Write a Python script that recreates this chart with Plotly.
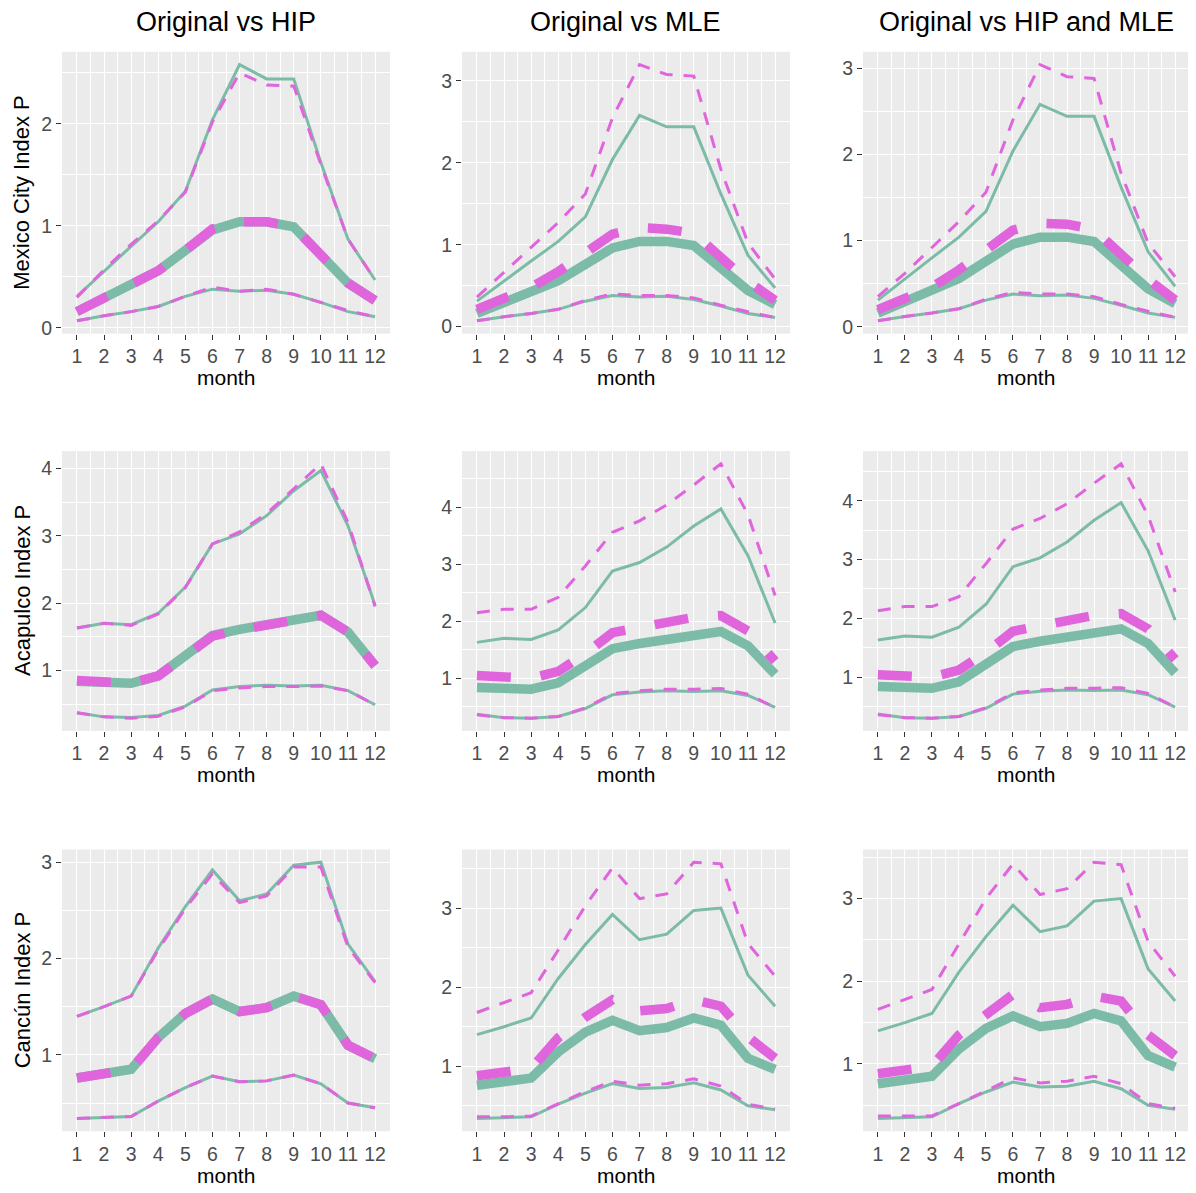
import plotly.graph_objects as go

MONTHS = list(range(1, 13))
MONTH_LABELS = [str(m) for m in MONTHS]
COL_TITLES = ["Original vs HIP", "Original vs MLE", "Original vs HIP and MLE"]
ROW_TITLES = ["Mexico City Index P", "Acapulco Index P", "Cancún Index P"]

# Mexico City
MEX_ORIG_HI = [0.31, 0.56, 0.80, 1.04, 1.34, 2.04, 2.58, 2.44, 2.44, 1.62, 0.87, 0.47]
MEX_ORIG_MED = [0.16, 0.29, 0.42, 0.56, 0.76, 0.96, 1.04, 1.04, 0.99, 0.71, 0.44, 0.27]
MEX_ORIG_LO = [0.07, 0.12, 0.16, 0.21, 0.31, 0.38, 0.36, 0.37, 0.33, 0.25, 0.16, 0.11]
MEX_HIP_HI = [0.30, 0.57, 0.82, 1.05, 1.33, 2.02, 2.50, 2.38, 2.37, 1.60, 0.87, 0.47]
MEX_HIP_MED = [0.16, 0.29, 0.42, 0.56, 0.76, 0.97, 1.04, 1.04, 0.99, 0.71, 0.44, 0.27]
MEX_HIP_LO = [0.07, 0.12, 0.16, 0.21, 0.31, 0.40, 0.36, 0.38, 0.33, 0.25, 0.17, 0.11]
MEX_MLE_HI = [0.36, 0.66, 0.96, 1.27, 1.62, 2.55, 3.20, 3.08, 3.06, 1.92, 1.02, 0.58]
MEX_MLE_MED = [0.21, 0.33, 0.48, 0.67, 0.90, 1.13, 1.21, 1.19, 1.14, 0.85, 0.55, 0.32]
MEX_MLE_LO = [0.07, 0.12, 0.16, 0.21, 0.32, 0.40, 0.38, 0.38, 0.35, 0.26, 0.18, 0.11]
MEX_HM_HI = [0.35, 0.62, 0.92, 1.22, 1.56, 2.40, 3.04, 2.90, 2.88, 1.78, 0.97, 0.58]
MEX_HM_MED = [0.20, 0.33, 0.46, 0.66, 0.88, 1.12, 1.20, 1.19, 1.13, 0.84, 0.55, 0.31]
MEX_HM_LO = [0.07, 0.12, 0.16, 0.21, 0.32, 0.40, 0.38, 0.38, 0.35, 0.26, 0.18, 0.11]

# Acapulco
ACA_ORIG_HI = [1.63, 1.70, 1.68, 1.85, 2.24, 2.88, 3.03, 3.30, 3.67, 3.97, 3.15, 1.97]
ACA_ORIG_MED = [0.84, 0.83, 0.81, 0.92, 1.20, 1.52, 1.61, 1.67, 1.75, 1.82, 1.57, 1.07]
ACA_ORIG_LO = [0.37, 0.31, 0.30, 0.33, 0.47, 0.71, 0.76, 0.78, 0.77, 0.78, 0.70, 0.49]
ACA_HIP_HI = [1.63, 1.70, 1.67, 1.84, 2.23, 2.88, 3.06, 3.33, 3.70, 4.07, 3.20, 1.95]
ACA_HIP_MED = [0.85, 0.83, 0.81, 0.92, 1.20, 1.51, 1.60, 1.67, 1.75, 1.82, 1.57, 1.07]
ACA_HIP_LO = [0.37, 0.31, 0.29, 0.32, 0.46, 0.70, 0.74, 0.76, 0.76, 0.77, 0.70, 0.49]
ACA_MLE_HI = [2.15, 2.21, 2.21, 2.42, 2.97, 3.56, 3.76, 4.04, 4.39, 4.76, 3.87, 2.45]
ACA_MLE_MED = [1.05, 1.02, 1.00, 1.12, 1.43, 1.80, 1.89, 1.98, 2.07, 2.10, 1.83, 1.30]
ACA_MLE_LO = [0.36, 0.31, 0.30, 0.33, 0.48, 0.73, 0.78, 0.81, 0.81, 0.82, 0.72, 0.49]
ACA_HM_HI = [2.13, 2.20, 2.20, 2.37, 2.93, 3.52, 3.70, 3.95, 4.30, 4.63, 3.75, 2.45]
ACA_HM_MED = [1.04, 1.02, 1.00, 1.12, 1.42, 1.78, 1.87, 1.96, 2.05, 2.08, 1.82, 1.30]
ACA_HM_LO = [0.36, 0.31, 0.30, 0.33, 0.48, 0.73, 0.78, 0.81, 0.81, 0.82, 0.72, 0.49]

# Cancun
CAN_ORIG_HI = [1.40, 1.50, 1.61, 2.11, 2.54, 2.92, 2.60, 2.67, 2.97, 3.00, 2.15, 1.76]
CAN_ORIG_MED = [0.76, 0.81, 0.85, 1.18, 1.43, 1.58, 1.45, 1.49, 1.61, 1.52, 1.10, 0.96]
CAN_ORIG_LO = [0.34, 0.35, 0.36, 0.52, 0.66, 0.78, 0.72, 0.73, 0.79, 0.70, 0.50, 0.45]
CAN_HIP_HI = [1.40, 1.50, 1.61, 2.09, 2.52, 2.88, 2.58, 2.65, 2.95, 2.95, 2.12, 1.75]
CAN_HIP_MED = [0.76, 0.81, 0.85, 1.18, 1.43, 1.58, 1.45, 1.49, 1.61, 1.52, 1.10, 0.96]
CAN_HIP_LO = [0.34, 0.35, 0.36, 0.52, 0.66, 0.78, 0.72, 0.73, 0.79, 0.70, 0.50, 0.45]
CAN_MLE_HI = [1.68, 1.80, 1.93, 2.47, 3.03, 3.51, 3.12, 3.18, 3.58, 3.56, 2.55, 2.14]
CAN_MLE_MED = [0.88, 0.92, 0.97, 1.36, 1.62, 1.84, 1.70, 1.73, 1.84, 1.76, 1.37, 1.10]
CAN_MLE_LO = [0.36, 0.36, 0.37, 0.52, 0.68, 0.81, 0.76, 0.78, 0.84, 0.75, 0.52, 0.46]
CAN_HM_HI = [1.66, 1.78, 1.90, 2.45, 3.00, 3.42, 3.05, 3.12, 3.44, 3.41, 2.48, 2.06]
CAN_HM_MED = [0.88, 0.93, 0.97, 1.35, 1.60, 1.84, 1.68, 1.72, 1.82, 1.76, 1.35, 1.10]
CAN_HM_LO = [0.37, 0.37, 0.37, 0.52, 0.68, 0.83, 0.77, 0.79, 0.85, 0.76, 0.52, 0.46]

ORIG = [
    (MEX_ORIG_HI, MEX_ORIG_MED, MEX_ORIG_LO),
    (ACA_ORIG_HI, ACA_ORIG_MED, ACA_ORIG_LO),
    (CAN_ORIG_HI, CAN_ORIG_MED, CAN_ORIG_LO),
]
ALT = [
    [(MEX_HIP_HI, MEX_HIP_MED, MEX_HIP_LO), (MEX_MLE_HI, MEX_MLE_MED, MEX_MLE_LO), (MEX_HM_HI, MEX_HM_MED, MEX_HM_LO)],
    [(ACA_HIP_HI, ACA_HIP_MED, ACA_HIP_LO), (ACA_MLE_HI, ACA_MLE_MED, ACA_MLE_LO), (ACA_HM_HI, ACA_HM_MED, ACA_HM_LO)],
    [(CAN_HIP_HI, CAN_HIP_MED, CAN_HIP_LO), (CAN_MLE_HI, CAN_MLE_MED, CAN_MLE_LO), (CAN_HM_HI, CAN_HM_MED, CAN_HM_LO)],
]

# page is 1196x1193; the figure sits after an 8px body margin
OFF = 8
W, H = 1196 - OFF, 1193 - OFF
COL_PX = [(62, 390), (462, 790), (863, 1190)]
ROW_PX = [(52, 335), (453, 734), (853, 1136)]
GREEN = "#7DBBA9"
MAGENTA = "#E065DD"
FONT = "Liberation Sans, Arial, sans-serif"


def px(v):
    return min(1.0, max(0.0, (v - OFF) / W))


def py(v):
    return min(1.0, max(0.0, 1 - (v - OFF) / H))


fig = go.Figure()
annotations = []

for r in range(3):
    for c in range(3):
        idx = r * 3 + c + 1
        xa = "x" if idx == 1 else f"x{idx}"
        ya = "y" if idx == 1 else f"y{idx}"
        orig = ORIG[r]
        alt = ALT[r][c]
        widths = [3, 9.5, 3]
        dashes = ["13px,11px", "34px,30px", "13px,11px"]
        for series, w in zip(orig, widths):
            fig.add_trace(go.Scatter(x=MONTHS, y=series, mode="lines", xaxis=xa, yaxis=ya,
                                     line=dict(color=GREEN, width=w), showlegend=False, hoverinfo="skip"))
        for series, w, d in zip(alt, widths, dashes):
            fig.add_trace(go.Scatter(x=MONTHS, y=series, mode="lines", xaxis=xa, yaxis=ya,
                                     line=dict(color=MAGENTA, width=w, dash=d), showlegend=False,
                                     hoverinfo="skip"))
        allv = [v for s in list(orig) + list(alt) for v in s]
        lo, hi = min(allv), max(allv)
        pad = (hi - lo) * 0.05
        yr = [lo - pad, hi + pad]
        x0, x1 = COL_PX[c]
        y0, y1 = ROW_PX[r]
        xkey = "xaxis" if idx == 1 else f"xaxis{idx}"
        ykey = "yaxis" if idx == 1 else f"yaxis{idx}"
        ymaj = [v for v in range(0, 6) if yr[0] <= v <= yr[1]]
        ymin = [v + 0.5 for v in range(-1, 6) if yr[0] <= v + 0.5 <= yr[1]]
        fig.update_layout(**{
            xkey: dict(domain=[px(x0), px(x1)], anchor=ya, range=[0.45, 12.55],
                       tickmode="array", tickvals=MONTHS, ticktext=MONTH_LABELS,
                       showgrid=True, gridcolor="white", gridwidth=1.3, zeroline=False,
                       ticks="outside", ticklen=5, tickwidth=1.2, tickcolor="#333333",
                       tickfont=dict(family=FONT, size=19.5, color="#4D4D4D"),
                       minor=dict(tickmode="array", tickvals=[m + 0.5 for m in MONTHS[:-1]],
                                  showgrid=True, gridcolor="white", gridwidth=0.6, ticks=""),
                       showline=False, fixedrange=True),
            ykey: dict(domain=[py(y1), py(y0)], anchor=xa, range=yr,
                       tickmode="array", tickvals=ymaj, ticktext=[str(v) for v in ymaj],
                       showgrid=True, gridcolor="white", gridwidth=1.3, zeroline=False,
                       ticks="outside", ticklen=5, tickwidth=1.2, tickcolor="#333333",
                       tickfont=dict(family=FONT, size=19.5, color="#4D4D4D"),
                       minor=dict(tickmode="array", tickvals=ymin, showgrid=True,
                                  gridcolor="white", gridwidth=0.6, ticks=""),
                       showline=False, fixedrange=True),
        })
        annotations.append(dict(text="month", x=(px(x0) + px(x1)) / 2, y=py(y1 + 44),
                                xref="paper", yref="paper", showarrow=False,
                                font=dict(family=FONT, size=21, color="black"),
                                xanchor="center", yanchor="middle"))
        if r == 0:
            annotations.append(dict(text=COL_TITLES[c], x=(px(x0) + px(x1)) / 2, y=py(22),
                                    xref="paper", yref="paper", showarrow=False,
                                    font=dict(family=FONT, size=27, color="black"),
                                    xanchor="center", yanchor="middle"))
        if c == 0:
            annotations.append(dict(text=ROW_TITLES[r], x=px(22), y=py((y0 + y1) / 2),
                                    xref="paper", yref="paper", showarrow=False, textangle=-90,
                                    font=dict(family=FONT, size=22, color="black"),
                                    xanchor="center", yanchor="middle"))

fig.update_layout(width=W, height=H, margin=dict(l=0, r=0, t=0, b=0),
                  paper_bgcolor="white", plot_bgcolor="#EBEBEB",
                  annotations=annotations, showlegend=False)
fig.write_html("out.html")
